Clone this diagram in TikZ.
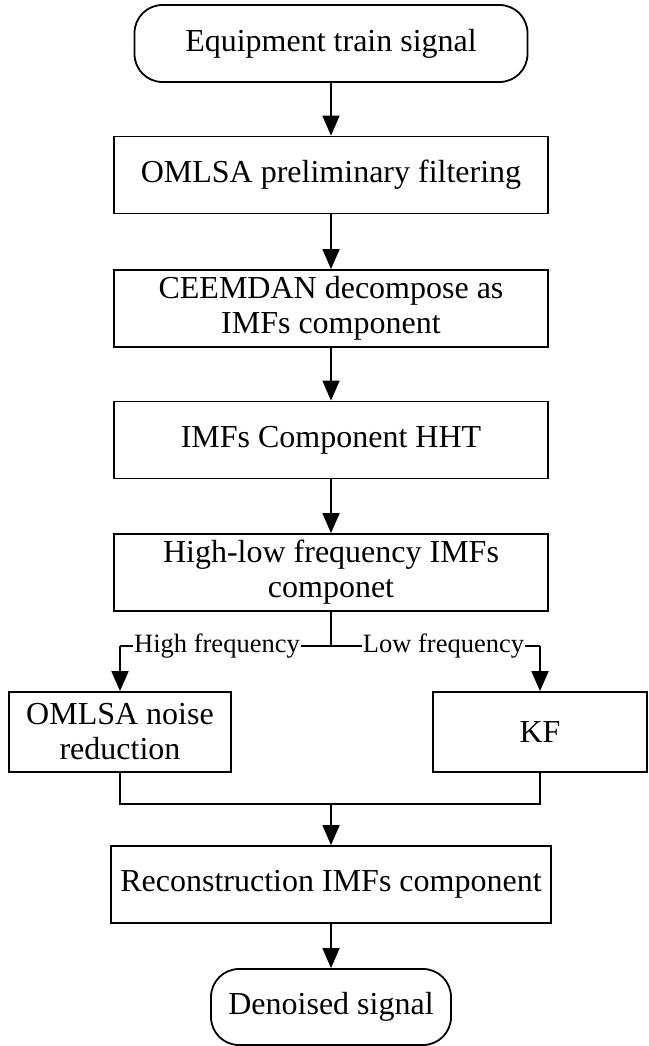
\documentclass[tikz,border=0pt]{standalone}
\usepackage{fontspec}
\setmainfont{Liberation Serif}
\usetikzlibrary{arrows.meta}
\begin{document}
\begin{tikzpicture}[x=1pt, y=-1pt,
    box/.style={draw, line width=1.8pt, inner sep=0pt, align=center,
      minimum width=434pt, minimum height=77pt, font=\fontsize{32}{35}\selectfont},
    term/.style={box, rounded corners=28pt},
    arr/.style={line width=1.8pt, -{Triangle[width=17pt, length=20pt]}},
    lbl/.style={fill=white, inner sep=1pt, font=\fontsize{26.5}{30}\selectfont}]
  \useasboundingbox (0,0) rectangle (648,1046);
  % main column
  \node[term, minimum width=393pt] (a0) at (331,43.5) {Equipment train signal};
  \node[box] (a1) at (331,175) {OMLSA preliminary filtering};
  \node[box] (a2) at (331,308.5) {CEEMDAN decompose as\\IMFs component};
  \node[box] (a3) at (331,440) {IMFs Component HHT};
  \node[box] (a4) at (331,572.5) {High-low frequency IMFs\\componet};
  \node[box, minimum width=222pt, minimum height=80pt] (b0) at (120,732) {OMLSA noise\\reduction};
  \node[box, minimum width=214pt, minimum height=80pt] (b1) at (540,732) {KF};
  \node[box, minimum width=440pt] (a5) at (331,884.5) {Reconstruction IMFs component};
  \node[term, minimum width=240pt, minimum height=76pt] (a6) at (331,1007) {Denoised signal};
  \coordinate (s) at (331,646);
  \coordinate (sl) at (120,646);
  \coordinate (sr) at (540,646);
  \coordinate (j) at (331,804);
  \coordinate (jl) at (120,804);
  \coordinate (jr) at (540,804);
  \draw[arr] (a0) -- (a1);
  \draw[arr] (a1) -- (a2);
  \draw[arr] (a2) -- (a3);
  \draw[arr] (a3) -- (a4);
  % split into high and low frequency
  \draw[line width=1.8pt] (a4) -- (s) (sl) -- (sr);
  \draw[arr] (sl) -- (b0);
  \draw[arr] (sr) -- (b1);
  \node[lbl] (hf) at (217,646) {High frequency};
  \node[lbl] (lf) at (443.5,646) {Low frequency};
  % join
  \draw[line width=1.8pt] (b0) -- (jl) -- (jr) -- (b1);
  \draw[arr] (j) -- (a5);
  \draw[arr] (a5) -- (a6);
\end{tikzpicture}
\end{document}
